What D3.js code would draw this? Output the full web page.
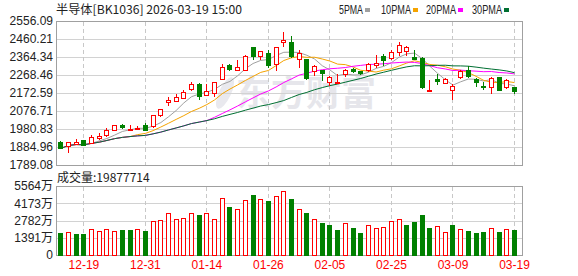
<!DOCTYPE html>
<html>
<head>
<meta charset="utf-8">
<script src="https://cdn.jsdelivr.net/npm/d3@7/dist/d3.min.js"></script>
<style>
body { margin: 0; background: #ffffff; }
svg { display: block; }
text { font-family: "Liberation Sans", Arial, "Noto Sans CJK SC", sans-serif; font-size: 12px; fill: #222; }
.grid { stroke: #d2d2d2; stroke-width: 1; shape-rendering: crispEdges; }
.vgrid { stroke: #c8c8c8; stroke-width: 1; stroke-dasharray: 4,3; shape-rendering: crispEdges; }
.frame { fill: none; stroke: #a0a0a0; stroke-width: 1; shape-rendering: crispEdges; }
</style>
</head>
<body>
<script>
// trading days shown
var dates = ["12-16","12-17","12-18","12-19","12-22","12-23","12-24","12-25","12-26","12-29",
	"12-30","12-31","01-05","01-06","01-07","01-08","01-09","01-12","01-13","01-14",
	"01-15","01-16","01-19","01-20","01-21","01-22","01-23","01-26","01-27","01-28",
	"01-29","01-30","02-02","02-03","02-04","02-05","02-06","02-09","02-10","02-11",
	"02-12","02-13","02-24","02-25","02-26","02-27","03-02","03-03","03-04","03-05",
	"03-06","03-09","03-10","03-11","03-12","03-13","03-16","03-17","03-18","03-19"];

// daily prices
var openPrice = [1912,1891,1901,1921,1907,1934,1948,1977,2002,1980,
	1980,2002,1995,2056,2127,2131,2148,2193,2223,2163,
	2172,2249,2322,2297,2297,2415,2368,2386,2327,2442,
	2443,2356,2354,2292,2293,2231,2230,2273,2298,2289,
	2295,2320,2368,2358,2390,2395,2365,2359,2183,2249,
	2225,2186,2257,2297,2249,2211,2207,2256,2207,2204];
var highPrice = [1916,1913,1927,1924,1948,1959,1985,2002,2009,2000,
	1997,2013,2058,2090,2152,2168,2187,2231,2225,2223,
	2232,2329,2329,2347,2375,2420,2397,2404,2420,2497,
	2478,2400,2356,2320,2297,2263,2275,2300,2305,2292,
	2334,2374,2379,2400,2443,2422,2404,2366,2243,2276,
	2255,2222,2295,2318,2252,2231,2258,2258,2249,2206];
var lowPrice = [1878,1859,1899,1894,1905,1927,1946,1976,1987,1979,
	1979,1975,1990,2052,2111,2128,2145,2190,2141,2160,
	2154,2246,2294,2295,2295,2356,2356,2310,2293,2422,
	2366,2309,2248,2270,2243,2213,2228,2261,2283,2276,
	2290,2311,2324,2355,2377,2377,2352,2198,2182,2220,
	2224,2140,2255,2258,2211,2193,2172,2188,2201,2175];
var closePrice = [1880,1912,1910,1896,1937,1945,1977,2000,1992,1983,
	1984,1977,2056,2088,2137,2152,2179,2222,2159,2184,
	2229,2313,2300,2309,2372,2368,2395,2324,2417,2456,
	2372,2384,2252,2318,2277,2259,2232,2297,2292,2279,
	2329,2335,2351,2390,2427,2417,2354,2204,2187,2238,
	2247,2211,2292,2261,2229,2202,2252,2190,2243,2181];

// volume in 万
var volume = [1809,1863,1728,1728,2133,1944,2133,1971,1998,2052,
	2133,1971,2781,2862,3402,2916,2997,3402,3186,3402,
	2916,4617,3834,3726,4401,4806,4536,4320,4779,5184,
	4482,3726,3348,2916,2619,2457,2052,2592,2214,1809,
	2430,2187,2268,2754,2916,2457,2700,3186,2214,2349,
	1863,2457,2106,1971,1809,1890,2187,1890,2106,1988];

// axis ticks
var priceTicks = [1789.08, 1884.96, 1980.83, 2076.71, 2172.59, 2268.46, 2364.34, 2460.21, 2556.09];
var volumeTicks = [0, 1391, 2782, 4173, 5564];
var dateTicks = ["12-19", "12-31", "01-14", "01-26", "02-05", "02-25", "03-09", "03-19"];

var maNames = ["5PMA", "10PMA", "20PMA", "30PMA"];
var maDays = [5, 10, 20, 30];
var maColors = ["#a0a0a0", "#f5a300", "#ff00ff", "#006f32"];

var upColor = "#ff0000";
var downColor = "#008000";

window.onload = function() {
	drawChart();
};

// moving average of the closes (shorter window at the start)
function movingAverage(days) {
	var out = [];
	for (var i = 0; i < closePrice.length; i++) {
		var from = Math.max(0, i - days + 1);
		out.push(d3.mean(closePrice.slice(from, i + 1)));
	}
	return out;
}

function drawChart() {

	var w = 578;
	var h = 276;
	var left = 56;
	var right = 522;

	var svg = d3.select("body")
		.append("svg")
		.attr("width", w)
		.attr("height", h);

	var x = d3.scaleLinear()
		.domain([-0.56, 60.04])
		.range([left, right]);

	// d3 axes add 0.5 themselves
	var yPrice = d3.scaleLinear()
		.domain([priceTicks[0], priceTicks[priceTicks.length - 1]])
		.range([165, 21]);

	var yVol = d3.scaleLinear()
		.domain([0, volumeTicks[volumeTicks.length - 1]])
		.range([255, 186]);

	var idx = d3.range(dates.length);

	// watermark
	var wm = svg.append("g").attr("class", "watermark");
	wm.append("ellipse")
		.attr("cx", 225).attr("cy", 93)
		.attr("rx", 6).attr("ry", 17)
		.attr("transform", "rotate(25,225,93)")
		.attr("fill", "#e9e9ee");
	wm.append("text")
		.attr("x", 236)
		.attr("y", 106)
		.style("font-family", "'Noto Sans CJK SC'")
		.style("font-size", "35px")
		.style("font-weight", "bold")
		.style("fill", "#e6e6eb")
		.text("东方财富");

	// price axis with horizontal grid
	var priceAxis = d3.axisLeft(yPrice)
		.tickValues(priceTicks)
		.tickFormat(d3.format(".2f"))
		.tickSize(-(right - left))
		.tickPadding(3);
	svg.append("g")
		.attr("transform", "translate(" + left + ",0)")
		.call(priceAxis)
		.call(function(g) {
			g.select(".domain").remove();
			g.selectAll("line").attr("class", "grid").attr("stroke", null);
			g.selectAll("text").attr("fill", null).style("font-size", "12px")
				.style("font-family", "'Liberation Sans', Arial, sans-serif");
		});

	// volume axis
	var volAxis = d3.axisLeft(yVol)
		.tickValues(volumeTicks)
		.tickFormat(function(d) { return d === 0 ? "0" : d + "万"; })
		.tickSize(-(right - left))
		.tickPadding(3);
	svg.append("g")
		.attr("transform", "translate(" + left + ",0)")
		.call(volAxis)
		.call(function(g) {
			g.select(".domain").remove();
			g.selectAll("line").attr("class", "grid").attr("stroke", null);
			g.selectAll("text").attr("fill", null).style("font-size", "12px")
				.style("font-family", "'Liberation Sans', Arial, 'Noto Sans CJK SC', sans-serif");
		});

	// vertical dashed grid at the labelled dates
	var tickIdx = dateTicks.map(function(d) { return dates.indexOf(d); });
	[[21.5, 165.5], [186.5, 255.5]].forEach(function(span) {
		svg.append("g").selectAll("line")
			.data(tickIdx)
			.enter()
			.append("line")
			.attr("class", "vgrid")
			.attr("x1", function(i) { return Math.round(x(i)) + 0.5; })
			.attr("x2", function(i) { return Math.round(x(i)) + 0.5; })
			.attr("y1", span[0])
			.attr("y2", span[1]);
	});

	// date labels
	var dateAxis = d3.axisBottom(x)
		.tickValues(tickIdx)
		.tickFormat(function(i) { return dates[i]; })
		.tickSize(0)
		.tickPadding(4);
	svg.append("g")
		.attr("transform", "translate(0,256)")
		.call(dateAxis)
		.call(function(g) {
			g.select(".domain").remove();
			g.selectAll("text").attr("fill", null).style("fill", upColor)
				.style("font-size", "12px")
				.style("font-family", "'Liberation Sans', Arial, sans-serif");
		});

	// frames
	svg.append("rect").attr("class", "frame")
		.attr("x", left + 0.5).attr("y", 21.5)
		.attr("width", right - left).attr("height", 144);
	svg.append("rect").attr("class", "frame")
		.attr("x", left + 0.5).attr("y", 186.5)
		.attr("width", right - left).attr("height", 69);

	// moving average lines
	var line = d3.line()
		.x(function(d, i) { return x(i) + 0.5; })
		.y(function(d) { return yPrice(d) + 0.5; });
	maDays.forEach(function(n, k) {
		svg.append("path")
			.datum(movingAverage(n))
			.attr("d", line)
			.attr("fill", "none")
			.attr("stroke", maColors[k])
			.attr("stroke-width", 1);
	});

	// candles
	var candle = svg.append("g").selectAll("g")
		.data(idx)
		.enter()
		.append("g");

	candle.append("line")
		.attr("x1", function(i) { return Math.round(x(i)) + 0.5; })
		.attr("x2", function(i) { return Math.round(x(i)) + 0.5; })
		.attr("y1", function(i) { return Math.round(yPrice(highPrice[i])); })
		.attr("y2", function(i) { return Math.round(yPrice(lowPrice[i])) + 1; })
		.attr("stroke", function(i) { return closePrice[i] >= openPrice[i] ? upColor : downColor; })
		.attr("shape-rendering", "crispEdges");

	candle.append("rect")
		.attr("x", function(i) {
			return closePrice[i] >= openPrice[i] ? Math.round(x(i)) - 1.5 : Math.round(x(i)) - 2;
		})
		.attr("y", function(i) {
			var top = Math.round(yPrice(Math.max(openPrice[i], closePrice[i])));
			return closePrice[i] >= openPrice[i] ? top + 0.5 : top;
		})
		.attr("width", function(i) { return closePrice[i] >= openPrice[i] ? 4 : 5; })
		.attr("height", function(i) {
			var top = Math.round(yPrice(Math.max(openPrice[i], closePrice[i])));
			var bot = Math.round(yPrice(Math.min(openPrice[i], closePrice[i])));
			var hh = Math.max(bot - top, 1);
			return closePrice[i] >= openPrice[i] ? hh : hh + 1;
		})
		.attr("fill", function(i) { return closePrice[i] >= openPrice[i] ? "#ffffff" : downColor; })
		.attr("stroke", function(i) { return closePrice[i] >= openPrice[i] ? upColor : "none"; })
		.attr("stroke-width", 1)
		.attr("shape-rendering", "crispEdges");

	// volume bars, coloured by change against previous close
	function volUp(i) {
		return i === 0 ? closePrice[i] >= openPrice[i] : closePrice[i] >= closePrice[i - 1];
	}
	svg.append("g").selectAll("rect")
		.data(idx)
		.enter()
		.append("rect")
		.attr("x", function(i) { return volUp(i) ? Math.round(x(i)) - 1.5 : Math.round(x(i)) - 2; })
		.attr("y", function(i) { return Math.round(yVol(volume[i])) + (volUp(i) ? 0.5 : 0); })
		.attr("width", function(i) { return volUp(i) ? 4 : 5; })
		.attr("height", function(i) {
			var hh = 255 - Math.round(yVol(volume[i]));
			return volUp(i) ? hh : hh + 1;
		})
		.attr("fill", function(i) { return volUp(i) ? "#ffffff" : downColor; })
		.attr("stroke", function(i) { return volUp(i) ? upColor : "none"; })
		.attr("shape-rendering", "crispEdges");

	// title
	svg.append("text")
		.attr("x", 56)
		.attr("y", 14)
		.attr("textLength", 186)
		.attr("lengthAdjust", "spacingAndGlyphs")
		.style("font-family", "'Noto Sans CJK SC', sans-serif")
		.text("半导体[BK1036] 2026-03-19 15:00");

	// legend
	var legendX = [339, 381, 426, 472];
	maNames.forEach(function(name, k) {
		svg.append("text")
			.attr("x", legendX[k])
			.attr("y", 14)
			.attr("textLength", name.length * 6)
			.attr("lengthAdjust", "spacingAndGlyphs")
			.text(name);
		svg.append("rect")
			.attr("x", legendX[k] + name.length * 6 + 2)
			.attr("y", 8)
			.attr("width", 5)
			.attr("height", 4)
			.attr("fill", maColors[k]);
	});

	// volume caption
	svg.append("text")
		.attr("x", 57)
		.attr("y", 182)
		.style("font-family", "'Noto Sans CJK SC', sans-serif")
		.text("成交量:" + "19877714");
}
</script>
</body>
</html>
